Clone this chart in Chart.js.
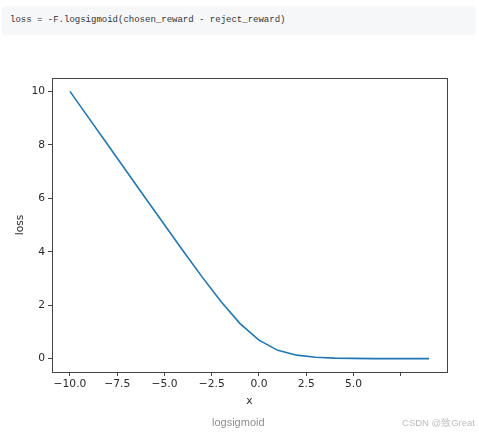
<!DOCTYPE html>
<html>
<head>
<meta charset="utf-8">
<script src="https://cdn.jsdelivr.net/npm/chart.js@4/dist/chart.umd.min.js"></script>
<style>
  body { margin: 0; background: #fff; width: 479px; height: 435px; position: relative; overflow: hidden; }
  #code {
    position: absolute; left: 2px; top: 6px; width: 474px; height: 29px;
    background: #f6f7f9; border-radius: 4px;
    font: 9px "Liberation Mono", monospace; color: #333;
    line-height: 29px; padding-left: 8px; box-sizing: border-box;
  }
  #chart { position: absolute; left: 0; top: 0; }
  .cap { position: absolute; font-family: "Liberation Sans", Arial, sans-serif; white-space: nowrap; }
</style>
</head>
<body>
<div id="code">loss = -F.logsigmoid(chosen_reward - reject_reward)</div>
<canvas id="chart" width="479" height="435"></canvas>
<div class="cap" style="left:212px; top:416px; font-size:11px; color:#8f8f8f;">logsigmoid</div>
<div class="cap" style="right:4px; top:417px; font-size:9.5px; color:#bdbdbd;">CSDN @致Great</div>
<script>
// data
const xValues = [-10, -9, -8, -7, -6, -5, -4, -3, -2, -1, 0, 1, 2, 3, 4, 5, 6, 7, 8, 9];
const lossValues = [10.0, 9.0, 8.0, 7.0, 6.0, 5.01, 4.02, 3.05, 2.13, 1.31, 0.69, 0.31, 0.13, 0.05, 0.02, 0.01, 0.0, 0.0, 0.0, 0.0];
const xTicks = [-10, -7.5, -5, -2.5, 0, 2.5, 5, 7.5];
const xTickLabels = ['\u221210.0', '\u22127.5', '\u22125.0', '\u22122.5', '0.0', '2.5', '5.0', ''];
const yTicks = [0, 2, 4, 6, 8, 10];

const tickFont = { family: 'DejaVu Sans', size: 10.7 };
const ink = '#2a2a2a';

// matplotlib style frame around the plot area
const framePlugin = {
    id: 'frame',
    afterDraw(chart) {
        const { ctx, chartArea: a } = chart;
        ctx.save();
        ctx.strokeStyle = '#444';
        ctx.lineWidth = 1;
        ctx.strokeRect(Math.round(a.left) + 0.5, Math.round(a.top) + 0.5,
            Math.round(a.right - a.left), Math.round(a.bottom - a.top));
        ctx.restore();
    }
};

new Chart(document.getElementById('chart').getContext('2d'), {
    type: 'line',
    data: {
        datasets: [{
            data: xValues.map((x, i) => ({ x: x, y: lossValues[i] })),
            borderColor: '#1f77b4',
            borderWidth: 1.6,
            pointRadius: 0,
            tension: 0,
            fill: false
        }]
    },
    options: {
        responsive: false,
        animation: false,
        devicePixelRatio: 1,
        layout: { padding: { left: 12, top: 78, right: 32, bottom: 24 } },
        plugins: { legend: { display: false }, tooltip: { enabled: false } },
        scales: {
            x: {
                type: 'linear',
                min: -10.95,
                max: 9.95,
                afterFit: s => { s.height = 39; },
                afterBuildTicks: s => { s.ticks = xTicks.map(v => ({ value: v })); },
                ticks: {
                    font: tickFont, color: ink, padding: 2, maxRotation: 0,
                    callback: (v) => xTickLabels[xTicks.indexOf(v)]
                },
                grid: { drawOnChartArea: false, drawTicks: true, tickLength: 4, color: '#444' },
                border: { display: false },
                title: { display: true, text: 'x', font: { family: 'DejaVu Sans', size: 10.7 }, color: ink, padding: { top: 2, bottom: 3 } }
            },
            y: {
                min: -0.5,
                max: 10.5,
                afterFit: s => { s.width = 40; },
                afterBuildTicks: s => { s.ticks = yTicks.map(v => ({ value: v })); },
                ticks: { font: tickFont, color: ink, padding: 3, callback: v => String(v) },
                grid: { drawOnChartArea: false, drawTicks: true, tickLength: 4, color: '#444' },
                border: { display: false },
                title: { display: true, text: 'loss', font: { family: 'DejaVu Sans', size: 10.7 }, color: ink, padding: { top: 2, bottom: 2 } }
            }
        }
    },
    plugins: [framePlugin]
});
</script>
</body>
</html>
